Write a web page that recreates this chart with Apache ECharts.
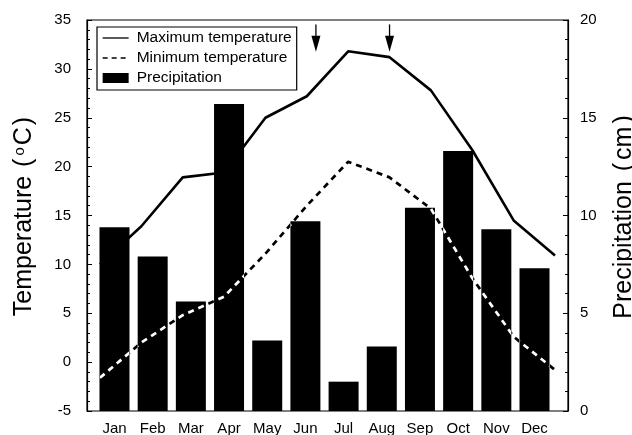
<!DOCTYPE html>
<html>
<head>
<meta charset="utf-8">
<script src="https://cdn.jsdelivr.net/npm/echarts@6/dist/echarts.min.js"></script>
<style>html,body{margin:0;padding:0;background:#fff}#c{width:632px;height:435px}</style>
</head>
<body>
<div id="c"></div>
<script>
// ---- data ----
const months = ['Jan','Feb','Mar','Apr','May','Jun','Jul','Aug','Sep','Oct','Nov','Dec'];
const precipitation = [9.4, 7.9, 5.6, 15.7, 3.6, 9.7, 1.5, 3.3, 10.4, 13.3, 9.3, 7.3];
const maxTemperature = [10.0, 13.9, 18.9, 19.4, 25.0, 27.2, 31.8, 31.2, 27.8, 21.7, 14.5, 10.9];
const minTemperature = [-1.6, 2.0, 4.8, 6.7, 11.1, 16.0, 20.5, 18.9, 15.7, 8.6, 2.6, -0.8];
// arrows: [month position, top temperature, tip temperature]
const arrows = [[5.22, 34.55, 31.75], [7.0, 34.55, 31.75]];
const tempTicks = {min: -5, max: 35, interval: 5};
const precTicks = {min: 0, max: 20, interval: 5};

const FONT = '"Liberation Sans", Arial, Helvetica, sans-serif';
const chart = echarts.init(document.getElementById('c'), null, {renderer: 'canvas'});

const yCommon = {
  type: 'value',
  splitLine: {show: false},
  axisLine: {show: true, lineStyle: {color: '#000', width: 1.2}},
  axisTick: {show: true, inside: true, length: 5, lineStyle: {color: '#000', width: 1}},
  minorTick: {show: true, splitNumber: 5, length: 3, lineStyle: {color: '#000', width: 1}},
  axisLabel: {color: '#000', fontSize: 15, fontFamily: FONT}
};
const hiddenLegendSymbol = {color: 'rgba(0,0,0,0)', opacity: 0, borderWidth: 0};

const option = {
  backgroundColor: '#fff',
  animation: false,
  grid: [
    // frame + visible axes
    {left: 87, right: 64, top: 20, bottom: 24, show: true, borderColor: '#000', borderWidth: 1.2, backgroundColor: 'transparent', outerBoundsMode: 'none', containLabel: false},
    // bars + month labels
    {left: 95.4, right: 78.4, top: 20, bottom: 24, outerBoundsMode: 'none', containLabel: false},
    // temperature lines + arrows
    {left: 100, right: 77, top: 20, bottom: 24, outerBoundsMode: 'none', containLabel: false}
  ],
  legend: {
    orient: 'vertical', left: 97, top: 27,
    padding: [3, 5, 4, 5],
    itemWidth: 26, itemHeight: 10, itemGap: 4,
    borderColor: '#000', borderWidth: 1.2,
    selectedMode: false,
    textStyle: {fontSize: 15.5, color: '#000', fontFamily: FONT, lineHeight: 16, padding: [0, 0, 0, 3]},
    data: [
      {name: 'Maximum temperature', lineStyle: {color: '#000', width: 1.3, type: 'solid'}, itemStyle: hiddenLegendSymbol},
      {name: 'Minimum temperature', lineStyle: {color: '#000', width: 1.3, type: [5, 4]}, itemStyle: hiddenLegendSymbol},
      {name: 'Precipitation', icon: 'rect', itemStyle: {color: '#000'}}
    ]
  },
  xAxis: [
    {type: 'value', gridIndex: 0, min: 0, max: 1, show: false, splitLine: {show: false}},
    {type: 'category', gridIndex: 1, data: months, boundaryGap: true,
     axisLine: {show: false}, axisTick: {show: false},
     axisLabel: {color: '#000', fontSize: 15, fontFamily: FONT, margin: 10}},
    {type: 'value', gridIndex: 2, min: 0, max: 11, interval: 1, show: false, splitLine: {show: false}}
  ],
  yAxis: [
    Object.assign({}, yCommon, {
      gridIndex: 0, position: 'left', min: tempTicks.min, max: tempTicks.max, interval: tempTicks.interval,
      axisLabel: Object.assign({}, yCommon.axisLabel, {margin: 16}),
      name: '{a|Temperature }{p|(}{s|o}{a|C}{p|)}', nameLocation: 'middle', nameGap: 50,
      nameTextStyle: {color: '#000', fontSize: 25, fontFamily: FONT,
        rich: {a: {fontSize: 25, fontFamily: FONT, color: '#000'},
               p: {fontSize: 25, fontFamily: FONT, color: '#000', padding: [0, 2, 0, 2]},
               s: {fontSize: 15, fontFamily: FONT, color: '#000', verticalAlign: 'top', padding: [0, 2, 0, 1]}}}
    }),
    Object.assign({}, yCommon, {
      gridIndex: 0, position: 'right', min: precTicks.min, max: precTicks.max, interval: precTicks.interval,
      axisLabel: Object.assign({}, yCommon.axisLabel, {margin: 12}),
      name: '{a|Precipitation }{p|(}{a|cm}{p|)}', nameLocation: 'middle', nameGap: 44,
      nameTextStyle: {color: '#000', fontSize: 25, fontFamily: FONT,
        rich: {a: {fontSize: 25, fontFamily: FONT, color: '#000'},
               p: {fontSize: 25, fontFamily: FONT, color: '#000', padding: [0, 3, 0, 3]}}}
    }),
    {type: 'value', gridIndex: 1, min: precTicks.min, max: precTicks.max, interval: precTicks.interval, show: false, splitLine: {show: false}},
    {type: 'value', gridIndex: 2, min: tempTicks.min, max: tempTicks.max, interval: tempTicks.interval, show: false, splitLine: {show: false}}
  ],
  series: [
    {
      name: 'Maximum temperature', type: 'line', xAxisIndex: 2, yAxisIndex: 3, z: 1, clip: false,
      data: maxTemperature.map((v, i) => [i, v]),
      symbol: 'none', lineStyle: {color: '#000', width: 2.6}, itemStyle: {color: '#000'}
    },
    {
      name: 'Precipitation', type: 'bar', xAxisIndex: 1, yAxisIndex: 2, z: 2,
      data: precipitation, barWidth: 30, itemStyle: {color: '#000'}
    },
    {
      name: 'Minimum temperature', type: 'line', xAxisIndex: 2, yAxisIndex: 3, z: 3, clip: false,
      data: minTemperature.map((v, i) => [i, v]),
      symbol: 'none', blendMode: 'difference',
      lineStyle: {color: '#fff', width: 2.7, type: [6, 5]}, itemStyle: {color: '#fff'}
    },
    {
      name: 'arrows', type: 'custom', xAxisIndex: 2, yAxisIndex: 3, z: 4,
      data: arrows,
      encode: {x: 0, y: [1, 2]},
      clip: false,
      renderItem: function (params, api) {
        const top = api.coord([api.value(0), api.value(1)]);
        const tip = api.coord([api.value(0), api.value(2)]);
        return {
          type: 'group',
          children: [
            {type: 'line', shape: {x1: top[0], y1: top[1], x2: tip[0], y2: tip[1] - 12},
             style: {stroke: '#000', lineWidth: 1.3}},
            {type: 'polygon', shape: {points: [[tip[0] - 4.5, tip[1] - 16], [tip[0] + 4.5, tip[1] - 16], [tip[0], tip[1]]]},
             style: {fill: '#000'}}
          ]
        };
      }
    }
  ]
};
chart.setOption(option);
</script>
</body>
</html>
